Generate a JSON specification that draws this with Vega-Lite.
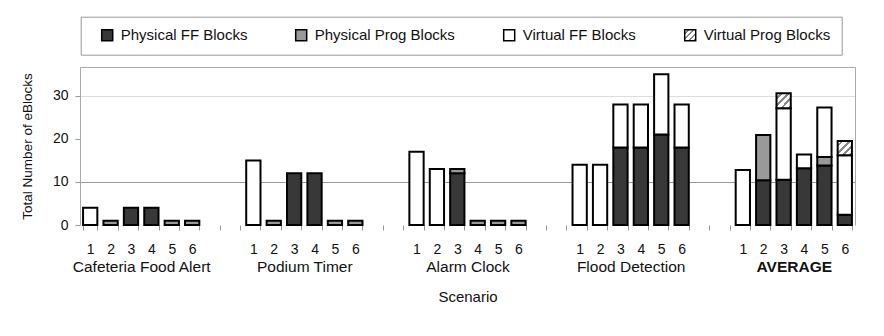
{
  "$schema": "https://vega.github.io/schema/vega-lite/v6.json",
  "width": 775,
  "height": 158,
  "autosize": {"type": "none"},
  "padding": {"left": 80, "top": 67, "right": 29, "bottom": 111},
  "config": {
    "view": {"stroke": null},
    "font": "Liberation Sans",
    "axis": {"labelColor": "#111", "titleColor": "#111", "labelFont": "Liberation Sans", "titleFont": "Liberation Sans"}
  },
  "datasets": {
    "bars": [
      {"slot": "a1", "type": "Virtual FF Blocks", "count": 4},
      {"slot": "a2", "type": "Physical Prog Blocks", "count": 1},
      {"slot": "a3", "type": "Physical FF Blocks", "count": 4},
      {"slot": "a4", "type": "Physical FF Blocks", "count": 4},
      {"slot": "a5", "type": "Physical Prog Blocks", "count": 1},
      {"slot": "a6", "type": "Physical Prog Blocks", "count": 1},
      {"slot": "b1", "type": "Virtual FF Blocks", "count": 15},
      {"slot": "b2", "type": "Physical Prog Blocks", "count": 1},
      {"slot": "b3", "type": "Physical FF Blocks", "count": 12},
      {"slot": "b4", "type": "Physical FF Blocks", "count": 12},
      {"slot": "b5", "type": "Physical Prog Blocks", "count": 1},
      {"slot": "b6", "type": "Physical Prog Blocks", "count": 1},
      {"slot": "c1", "type": "Virtual FF Blocks", "count": 17},
      {"slot": "c2", "type": "Virtual FF Blocks", "count": 13},
      {"slot": "c3", "type": "Physical FF Blocks", "count": 12},
      {"slot": "c3", "type": "Physical Prog Blocks", "count": 1},
      {"slot": "c4", "type": "Physical Prog Blocks", "count": 1},
      {"slot": "c5", "type": "Physical Prog Blocks", "count": 1},
      {"slot": "c6", "type": "Physical Prog Blocks", "count": 1},
      {"slot": "d1", "type": "Virtual FF Blocks", "count": 14},
      {"slot": "d2", "type": "Virtual FF Blocks", "count": 14},
      {"slot": "d3", "type": "Physical FF Blocks", "count": 18},
      {"slot": "d3", "type": "Virtual FF Blocks", "count": 10},
      {"slot": "d4", "type": "Physical FF Blocks", "count": 18},
      {"slot": "d4", "type": "Virtual FF Blocks", "count": 10},
      {"slot": "d5", "type": "Physical FF Blocks", "count": 21},
      {"slot": "d5", "type": "Virtual FF Blocks", "count": 14},
      {"slot": "d6", "type": "Physical FF Blocks", "count": 18},
      {"slot": "d6", "type": "Virtual FF Blocks", "count": 10},
      {"slot": "e1", "type": "Virtual FF Blocks", "count": 12.8},
      {"slot": "e2", "type": "Physical FF Blocks", "count": 10.4},
      {"slot": "e2", "type": "Physical Prog Blocks", "count": 10.5},
      {"slot": "e3", "type": "Physical FF Blocks", "count": 10.5},
      {"slot": "e3", "type": "Virtual FF Blocks", "count": 16.6},
      {"slot": "e3", "type": "Virtual Prog Blocks", "count": 3.5},
      {"slot": "e4", "type": "Physical FF Blocks", "count": 13.2},
      {"slot": "e4", "type": "Virtual FF Blocks", "count": 3.2},
      {"slot": "e5", "type": "Physical FF Blocks", "count": 13.8},
      {"slot": "e5", "type": "Physical Prog Blocks", "count": 2.0},
      {"slot": "e5", "type": "Virtual FF Blocks", "count": 11.5},
      {"slot": "e6", "type": "Physical FF Blocks", "count": 2.4},
      {"slot": "e6", "type": "Virtual FF Blocks", "count": 13.8},
      {"slot": "e6", "type": "Virtual Prog Blocks", "count": 3.3}
    ],
    "groups": [
      {"group": "Cafeteria Food Alert"},
      {"group": "Podium Timer"},
      {"group": "Alarm Clock"},
      {"group": "Flood Detection"},
      {"group": "AVERAGE"}
    ]
  },
  "layer": [
    {
      "data": {"name": "bars"},
      "mark": {"type": "bar", "stroke": "#000", "strokeWidth": 2},
      "encoding": {
        "x": {
          "field": "slot", "type": "nominal",
          "scale": {
            "domain": ["a1","a2","a3","a4","a5","a6","x1","x2","b1","b2","b3","b4","b5","b6","x3","x4","c1","c2","c3","c4","c5","c6","x5","x6","d1","d2","d3","d4","d5","d6","x7","x8","e1","e2","e3","e4","e5","e6"],
            "paddingInner": 0.3, "paddingOuter": 0.15
          },
          "axis": {
            "orient": "bottom", "title": null, "domain": false, "grid": false,
            "tickBand": "extent", "tickSize": 5, "tickColor": "#999",
            "labelAngle": 0, "labelFontSize": 14, "labelPadding": 12,
            "labelExpr": "(datum.value == null || substring(datum.value,0,1) === 'x') ? '' : substring(datum.value,1)"
          }
        },
        "y": {
          "field": "count", "type": "quantitative", "stack": "zero",
          "scale": {"domain": [0, 36.7], "nice": false},
          "axis": {
            "orient": "left", "values": [0, 10, 20, 30],
            "title": "Total Number of eBlocks", "titleFontSize": 13.5, "titleFontWeight": "normal", "titlePadding": 18,
            "labelFontSize": 14, "labelPadding": 7, "tickSize": 5, "tickColor": "#999", "domainColor": "#aaa",
            "gridColor": {"condition": {"test": "datum.value === 10", "value": "#999"}, "value": "#ddd"},
            "gridOpacity": {"condition": {"test": "datum.value === 10 || datum.value === 30", "value": 1}, "value": 0}
          }
        },
        "order": {"field": "type", "sort": "ascending"},
        "color": {
          "field": "type", "type": "nominal",
          "sort": ["Physical FF Blocks", "Physical Prog Blocks", "Virtual FF Blocks", "Virtual Prog Blocks"],
          "scale": {
            "domain": ["Physical FF Blocks", "Physical Prog Blocks", "Virtual FF Blocks", "Virtual Prog Blocks"],
            "range": ["#383838", "#999999", "#ffffff",
              {"expr": "{gradient: 'linear', x1: 0, y1: 0, x2: 1, y2: 1, stops: [{offset: 0, color: '#ffffff'}, {offset: 0.12, color: '#ffffff'}, {offset: 0.12, color: '#888888'}, {offset: 0.22, color: '#888888'}, {offset: 0.22, color: '#ffffff'}, {offset: 0.37, color: '#ffffff'}, {offset: 0.37, color: '#888888'}, {offset: 0.47, color: '#888888'}, {offset: 0.47, color: '#ffffff'}, {offset: 0.62, color: '#ffffff'}, {offset: 0.62, color: '#888888'}, {offset: 0.72, color: '#888888'}, {offset: 0.72, color: '#ffffff'}, {offset: 0.87, color: '#ffffff'}, {offset: 0.87, color: '#888888'}, {offset: 0.97, color: '#888888'}, {offset: 0.97, color: '#ffffff'}, {offset: 1, color: '#ffffff'}]}"}
            ]
          },
          "legend": {
            "orient": "none", "legendX": 0.7, "legendY": -50.3,
            "direction": "horizontal", "columns": 4, "columnPadding": 45,
            "title": " ", "titleOrient": "left", "titlePadding": 8, "titleFontSize": 15,
            "padding": 11, "strokeColor": "#999",
            "symbolType": "square", "symbolSize": 121, "symbolStrokeColor": "#000", "symbolStrokeWidth": 1.5,
            "labelFontSize": 15, "labelOffset": 6, "labelColor": "#111", "labelLimit": 0,
            "encode": {
              "symbols": {
                "update": {
                  "stroke": {"value": "#000000"},
                  "strokeWidth": {"value": 1.5}
                }
              }
            }
          }
        }
      }
    },
    {
      "data": {"name": "groups"},
      "mark": {"type": "text", "text": ""},
      "encoding": {
        "x": {
          "field": "group", "type": "nominal",
          "scale": {"type": "point", "domain": ["Cafeteria Food Alert", "Podium Timer", "Alarm Clock", "Flood Detection", "AVERAGE"], "padding": 0.375},
          "axis": {
            "orient": "bottom", "ticks": false, "domain": false, "grid": false,
            "labelAngle": 0, "labelFontSize": 15.5, "labelPadding": 34, "labelOverlap": false,
            "labelFontWeight": {"condition": {"test": "datum.value === 'AVERAGE'", "value": "bold"}, "value": "normal"},
            "title": "Scenario", "titleFontSize": 15, "titleFontWeight": "normal", "titlePadding": 15
          }
        }
      }
    },
    {
      "data": {"name": "groups"},
      "mark": {"type": "text", "text": ""},
      "encoding": {
        "x": {
          "field": "group", "type": "nominal",
          "scale": {"type": "point", "domain": ["Cafeteria Food Alert", "Podium Timer", "Alarm Clock", "Flood Detection", "AVERAGE"], "padding": 0.375},
          "axis": {"orient": "top", "labels": false, "ticks": false, "domain": true, "domainColor": "#aaa", "grid": false, "title": null}
        },
        "y": {
          "datum": 0, "type": "quantitative",
          "scale": {"domain": [0, 36.7], "nice": false},
          "axis": {"orient": "right", "labels": false, "ticks": false, "grid": false, "domain": true, "domainColor": "#aaa", "title": null}
        }
      }
    }
  ],
  "resolve": {"scale": {"x": "independent"}, "axis": {"x": "independent", "y": "independent"}}
}
